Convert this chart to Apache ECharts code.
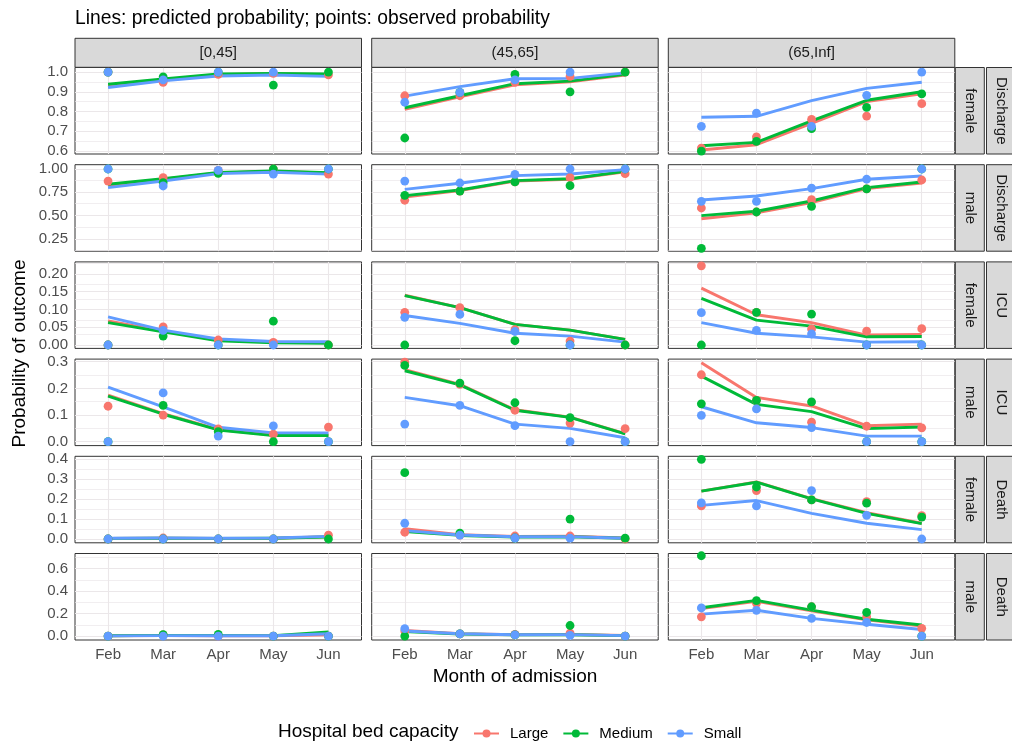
<!DOCTYPE html>
<html>
<head>
<meta charset="utf-8">
<script src="https://cdn.jsdelivr.net/npm/echarts@6/dist/echarts.min.js"></script>
<style>
html,body{margin:0;padding:0;background:#fff;}
#chart{width:1012px;height:742px;}
</style>
</head>
<body>
<div id="chart"></div>
<script>
// ---------------- DATA ----------------
const months = ['Feb','Mar','Apr','May','Jun'];
const ageGroups = ['[0,45]','(45,65]','(65,Inf]'];
const outcomes = ['Discharge','Discharge','ICU','ICU','Death','Death'];
const sexes = ['female','male','female','male','female','male'];
const capacities = ['Large','Medium','Small'];

// y-axis tick values / labels per row
const yTicks = [[0.6,0.7,0.8,0.9,1.0],[0.25,0.5,0.75,1.0],[0,0.05,0.1,0.15,0.2],[0,0.1,0.2,0.3],[0,0.1,0.2,0.3,0.4],[0,0.2,0.4,0.6]];
const yTickLabels = [['0.6','0.7','0.8','0.9','1.0'],['0.25','0.50','0.75','1.00'],['0.00','0.05','0.10','0.15','0.20'],['0.0','0.1','0.2','0.3'],['0.0','0.1','0.2','0.3','0.4'],['0.0','0.2','0.4','0.6']];
const yRanges = [[0.585,1.023],[0.119,1.046],[-0.0096,0.234],[-0.0146,0.3097],[-0.019,0.415],[-0.035,0.735]];

// predicted (lines) and observed (points): [ageGroup][month]
// Row 1: Discharge / female
const predDisF_Large  = [[0.930,0.958,0.986,0.992,0.987],[0.811,0.875,0.935,0.950,0.985],[0.605,0.632,0.740,0.850,0.890]];
const predDisF_Medium = [[0.938,0.965,0.990,0.993,0.990],[0.819,0.880,0.941,0.954,0.988],[0.627,0.644,0.753,0.857,0.900]];
const predDisF_Small  = [[0.922,0.955,0.980,0.985,0.978],[0.878,0.926,0.966,0.968,0.996],[0.771,0.776,0.855,0.917,0.948]];
const obsDisF_Large   = [[1.0,0.948,0.988,0.993,0.986],[0.880,0.880,0.948,0.978,1.0],[0.615,0.672,0.760,0.777,0.840]];
const obsDisF_Medium  = [[1.0,0.976,1.0,0.934,1.0],[0.666,0.897,0.988,0.900,1.0],[0.600,0.649,0.713,0.821,0.889]];
const obsDisF_Small   = [[1.0,0.960,1.0,1.0,null],[0.847,0.897,0.960,1.0,null],[0.725,0.792,0.725,0.882,1.0]];
// Row 2: Discharge / male
const predDisM_Large  = [[0.825,0.890,0.958,0.975,0.957],[0.700,0.770,0.870,0.890,0.970],[0.467,0.530,0.640,0.790,0.850]];
const predDisM_Medium = [[0.836,0.896,0.962,0.978,0.960],[0.714,0.775,0.875,0.896,0.975],[0.500,0.547,0.657,0.800,0.861]];
const predDisM_Small  = [[0.800,0.872,0.950,0.965,0.945],[0.782,0.847,0.929,0.946,0.993],[0.668,0.711,0.790,0.890,0.925]];
const obsDisM_Large   = [[0.871,0.907,0.986,1.0,0.946],[0.665,0.764,0.861,0.907,0.950],[0.582,0.539,0.671,0.786,0.882]];
const obsDisM_Medium  = [[1.0,0.853,0.954,1.0,1.0],[0.718,0.764,0.861,0.821,1.0],[0.150,0.539,0.600,0.786,1.0]];
const obsDisM_Small   = [[1.0,0.818,0.986,0.946,1.0],[0.871,0.850,0.943,1.0,1.0],[0.654,0.654,0.796,0.890,1.0]];
// Row 3: ICU / female
const predIcuF_Large  = [[0.068,0.039,0.014,0.008,0.007],[0.140,0.105,0.058,0.042,0.016],[0.160,0.085,0.063,0.028,0.030]];
const predIcuF_Medium = [[0.063,0.037,0.012,0.006,0.005],[0.139,0.105,0.058,0.042,0.016],[0.131,0.070,0.053,0.023,0.024]];
const predIcuF_Small  = [[0.079,0.042,0.017,0.010,0.009],[0.083,0.061,0.033,0.025,0.008],[0.063,0.033,0.023,0.008,0.009]];
const obsIcuF_Large   = [[0,0.051,0.014,0.0075,0],[0.092,0.105,0.043,0.011,0],[0.223,0.092,0.045,0.039,0.046]];
const obsIcuF_Medium  = [[0,0.025,0,0.067,0],[0,null,0.012,0,0],[0,0.092,0.087,0,0]];
const obsIcuF_Small   = [[0,0.041,0,0,null],[0.078,0.086,0.038,0,null],[0.091,0.041,0.031,0,0]];
// Row 4: ICU / male
const predIcuM_Large  = [[0.175,0.105,0.046,0.025,0.025],[0.270,0.215,0.120,0.092,0.030],[0.296,0.166,0.134,0.060,0.066]];
const predIcuM_Medium = [[0.171,0.103,0.044,0.023,0.023],[0.266,0.213,0.118,0.091,0.029],[0.246,0.140,0.113,0.049,0.055]];
const predIcuM_Small  = [[0.205,0.131,0.054,0.033,0.033],[0.166,0.135,0.066,0.050,0.015],[0.131,0.071,0.053,0.021,0.021]];
const obsIcuM_Large   = [[0.133,0.100,0.048,0.028,0.055],[0.298,0.215,0.118,0.070,0.049],[0.251,0.155,0.073,0.058,0.052]];
const obsIcuM_Medium  = [[0,0.136,0.038,0,0],[0.286,0.220,0.146,0.090,0],[0.142,0.155,0.149,0,0]];
const obsIcuM_Small   = [[0,0.183,0.021,0.059,0],[0.066,0.136,0.060,0,0],[0.099,0.123,0.053,0,0]];
// Row 5: Death / female
const predDeathF_Large  = [[0.003,0.004,0.003,0.004,0.012],[0.052,0.022,0.013,0.014,0.005],[0.240,0.287,0.203,0.132,0.079]];
const predDeathF_Medium = [[0.003,0.004,0.003,0.004,0.010],[0.038,0.018,0.010,0.011,0.004],[0.240,0.285,0.201,0.129,0.077]];
const predDeathF_Small  = [[0.004,0.005,0.004,0.005,0.013],[0.042,0.020,0.011,0.012,0.004],[0.169,0.193,0.129,0.079,0.047]];
const obsDeathF_Large   = [[0,0.005,0,0,0.019],[0.034,0.020,0.015,0.015,0],[0.166,0.243,0.196,0.188,0.117]];
const obsDeathF_Medium  = [[0,0,0,0,0],[0.333,0.029,0.005,0.100,0.004],[0.400,0.261,0.196,0.180,0.110]];
const obsDeathF_Small   = [[0,0,0,0,null],[0.079,0.020,0.005,0.004,null],[0.181,0.166,0.243,0.119,0]];
// Row 6: Death / male
const predDeathM_Large  = [[0.002,0.004,0.003,0.003,0.012],[0.050,0.022,0.013,0.015,0.005],[0.245,0.310,0.225,0.145,0.090]];
const predDeathM_Medium = [[0.003,0.006,0.006,0.004,0.036],[0.040,0.018,0.011,0.012,0.004],[0.252,0.318,0.231,0.150,0.099]];
const predDeathM_Small  = [[0.002,0.004,0.003,0.003,0.020],[0.045,0.020,0.012,0.013,0.004],[0.195,0.230,0.157,0.105,0.058]];
const obsDeathM_Large   = [[0,0.010,0,0,0],[0.045,0.020,0.015,0.027,0],[0.171,0.292,0.261,0.171,0.069]];
const obsDeathM_Medium  = [[0,0.012,0.015,0,0],[0,0.020,0.010,0.094,0],[0.715,0.315,0.261,0.210,0]];
const obsDeathM_Small   = [[0,0,0,0,0],[0.066,0.020,0.010,0.006,0],[0.250,0.229,0.157,0.121,0]];

const predRows = [
  [predDisF_Large, predDisF_Medium, predDisF_Small],
  [predDisM_Large, predDisM_Medium, predDisM_Small],
  [predIcuF_Large, predIcuF_Medium, predIcuF_Small],
  [predIcuM_Large, predIcuM_Medium, predIcuM_Small],
  [predDeathF_Large, predDeathF_Medium, predDeathF_Small],
  [predDeathM_Large, predDeathM_Medium, predDeathM_Small]
];
const obsRows = [
  [obsDisF_Large, obsDisF_Medium, obsDisF_Small],
  [obsDisM_Large, obsDisM_Medium, obsDisM_Small],
  [obsIcuF_Large, obsIcuF_Medium, obsIcuF_Small],
  [obsIcuM_Large, obsIcuM_Medium, obsIcuM_Small],
  [obsDeathF_Large, obsDeathF_Medium, obsDeathF_Small],
  [obsDeathM_Large, obsDeathM_Medium, obsDeathM_Small]
];

// ---------------- STYLE / LAYOUT ----------------
const colors = ['#F8766D','#00BA38','#619CFF'];
const FONT = '"Liberation Sans", Arial, Helvetica, sans-serif';
const colLeft = [75, 371.7, 668.3];
const colW = 286.5;
const rowTop0 = 67.5, rowStep = 97.2, rowH = 86.5;
const gridColor = '#ebe7e9';

const chart = echarts.init(document.getElementById('chart'), null, {renderer:'canvas'});

const grids = [], xAxes = [], yAxes = [], series = [];
const graphics = [];

for (let r = 0; r < 6; r++) {
  const ticks = yTicks[r];
  const step = ticks[1] - ticks[0];
  const [ymin, ymax] = yRanges[r];
  const minors = [];
  for (let k = -1; k < ticks.length; k++) {
    const v = +(ticks[0] + (k + 0.5) * step).toFixed(6);
    if (v > ymin && v < ymax) minors.push(v);
  }
  for (let c = 0; c < 3; c++) {
    const g = r * 3 + c;
    const isLeft = c === 0, isBottom = r === 5;
    grids.push({
      left: colLeft[c], top: rowTop0 + r * rowStep, width: colW, height: rowH,
      show: true, borderColor: '#333333', borderWidth: 1, backgroundColor: 'transparent',
      containLabel: false, outerBoundsMode: 'none'
    });
    xAxes.push({
      gridIndex: g, type: 'value', min: -0.6, max: 4.6,
      splitLine: {show: false}, axisLine: {show: false},
      axisTick: {show: isBottom, customValues: [0,1,2,3,4], length: 4, lineStyle: {color: '#333333', width: 1}},
      axisLabel: {show: isBottom, customValues: [0,1,2,3,4], formatter: v => months[Math.round(v)] || '',
                  color: '#4d4d4d', fontSize: 15, margin: 7, fontFamily: FONT}
    });
    yAxes.push({
      gridIndex: g, type: 'value', min: ymin, max: ymax,
      splitLine: {show: false}, axisLine: {show: false},
      axisTick: {show: isLeft, customValues: ticks, length: 4, lineStyle: {color: '#333333', width: 1}},
      axisLabel: {show: isLeft, customValues: ticks, color: '#4d4d4d', fontSize: 15, margin: 7, fontFamily: FONT,
        formatter: v => {
          let best = 0, bd = Infinity;
          ticks.forEach((t, i) => { const d = Math.abs(t - v); if (d < bd) { bd = d; best = i; } });
          return yTickLabels[r][best];
        }}
    });
    // gridlines host series
    const mlData = [];
    minors.forEach(v => mlData.push({yAxis: v, lineStyle: {width: 0.7, color: gridColor}}));
    ticks.forEach(v => mlData.push({yAxis: v, lineStyle: {width: 1.1, color: gridColor}}));
    months.forEach((m, i) => mlData.push({xAxis: i, lineStyle: {width: 1.1, color: gridColor}}));
    series.push({
      type: 'line', xAxisIndex: g, yAxisIndex: g, z: 1, zlevel: 0, silent: true,
      data: months.map((m, i) => [i, predRows[r][0][c][i]]),
      showSymbol: false, symbol: 'none', lineStyle: {opacity: 0}, tooltip: {show: false},
      markLine: {silent: true, z: 1, symbol: ['none','none'], label: {show: false}, animation: false,
        emphasis: {disabled: true}, lineStyle: {type: 'solid', color: gridColor}, data: mlData}
    });
    // predicted lines
    capacities.forEach((cap, k) => {
      series.push({
        type: 'line', name: cap, xAxisIndex: g, yAxisIndex: g, z: 3, silent: true,
        data: months.map((m, i) => [i, predRows[r][k][c][i]]),
        symbol: 'circle', symbolSize: 8, showSymbol: false,
        lineStyle: {width: 2.9, color: colors[k], join: 'round'},
        itemStyle: {color: colors[k]},
        emphasis: {disabled: true}
      });
    });
    // observed points
    capacities.forEach((cap, k) => {
      const pts = [];
      months.forEach((m, i) => { const v = obsRows[r][k][c][i]; if (v !== null) pts.push([i, v]); });
      series.push({
        type: 'scatter', name: cap, xAxisIndex: g, yAxisIndex: g, z: 4, silent: true,
        data: pts, symbol: 'circle', symbolSize: 8.8,
        itemStyle: {color: colors[k], opacity: 1},
        emphasis: {disabled: true}
      });
    });
  }
}

// top strips
const stripTop = 38.3, stripH = 29;
ageGroups.forEach((a, c) => {
  graphics.push({type: 'rect', shape: {x: colLeft[c], y: stripTop, width: colW, height: stripH},
    style: {fill: '#d9d9d9', stroke: '#333333', lineWidth: 1}, z: 10});
  graphics.push({type: 'text', x: colLeft[c] + colW / 2, y: stripTop + stripH / 2 + 0.5, z: 11,
    style: {text: a, align: 'center', verticalAlign: 'middle', fill: '#1a1a1a', font: '15px ' + FONT}});
});
// right strips
for (let r = 0; r < 6; r++) {
  const top = rowTop0 + r * rowStep;
  graphics.push({type: 'rect', shape: {x: 955.3, y: top, width: 29, height: rowH},
    style: {fill: '#d9d9d9', stroke: '#333333', lineWidth: 1}, z: 10});
  graphics.push({type: 'text', x: 969.8, y: top + rowH / 2, rotation: -Math.PI / 2, z: 11,
    style: {text: sexes[r], align: 'center', verticalAlign: 'middle', fill: '#1a1a1a', font: '15px ' + FONT}});
  graphics.push({type: 'rect', shape: {x: 986.5, y: top, width: 29, height: rowH},
    style: {fill: '#d9d9d9', stroke: '#333333', lineWidth: 1}, z: 10});
  graphics.push({type: 'text', x: 1001, y: top + rowH / 2, rotation: -Math.PI / 2, z: 11,
    style: {text: outcomes[r], align: 'center', verticalAlign: 'middle', fill: '#1a1a1a', font: '15px ' + FONT}});
}
// titles
graphics.push({type: 'text', x: 75, y: 18.5, z: 11,
  style: {text: 'Lines: predicted probability; points: observed probability', align: 'left', verticalAlign: 'middle', fill: '#000', font: '19.3px ' + FONT}});
graphics.push({type: 'text', x: 19.5, y: 353.5, rotation: Math.PI / 2, z: 11,
  style: {text: 'Probability of outcome', align: 'center', verticalAlign: 'middle', fill: '#000', font: '19px ' + FONT}});
graphics.push({type: 'text', x: 515, y: 676.5, z: 11,
  style: {text: 'Month of admission', align: 'center', verticalAlign: 'middle', fill: '#000', font: '19px ' + FONT}});
graphics.push({type: 'text', x: 278, y: 731.5, z: 11,
  style: {text: 'Hospital bed capacity', align: 'left', verticalAlign: 'middle', fill: '#000', font: '19px ' + FONT}});

chart.setOption({
  animation: false,
  backgroundColor: '#ffffff',
  textStyle: {fontFamily: FONT},
  grid: grids,
  xAxis: xAxes,
  yAxis: yAxes,
  series: series,
  legend: {
    data: capacities, left: 468, top: 721, orient: 'horizontal',
    itemWidth: 25, itemHeight: 10, itemGap: 14, selectedMode: false,
    textStyle: {fontSize: 15, color: '#000', fontFamily: FONT, padding: [0, 0, 0, 6]}
  },
  graphic: graphics
});
</script>
</body>
</html>
